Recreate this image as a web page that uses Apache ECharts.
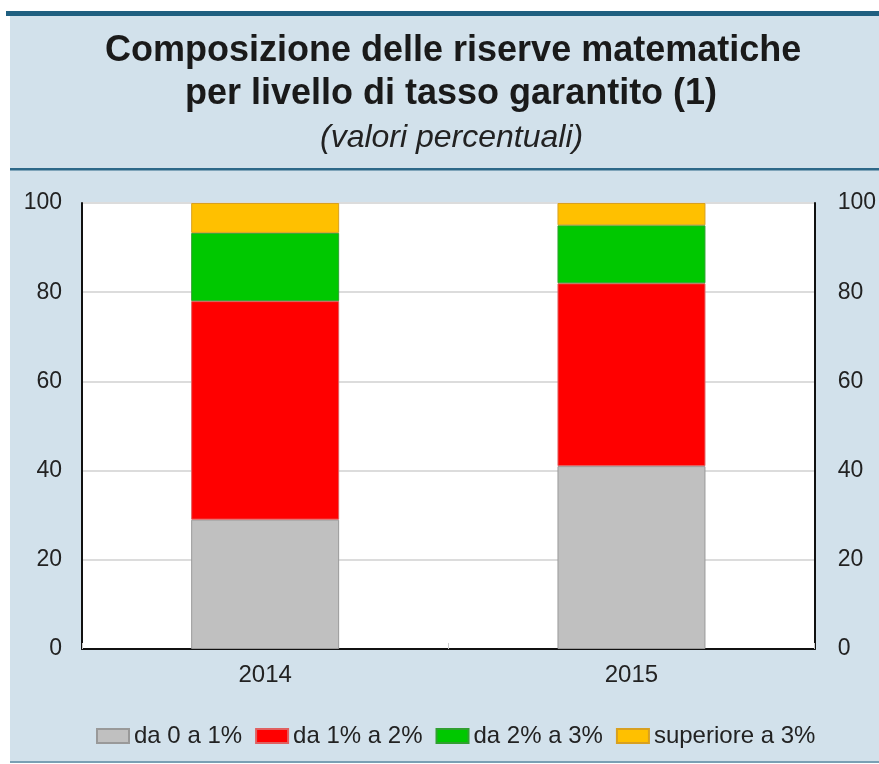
<!DOCTYPE html>
<html>
<head>
<meta charset="utf-8">
<script src="https://cdn.jsdelivr.net/npm/echarts@6/dist/echarts.min.js"></script>
<style>html,body{margin:0;padding:0;background:#fff;}#c{width:879px;height:764px;}</style>
</head>
<body>
<div id="c"></div>
<script>
const categories = ['2014', '2015'];
const seriesNames = ['da 0 a 1%', 'da 1% a 2%', 'da 2% a 3%', 'superiore a 3%'];
const s0to1 = [29, 41];
const s1to2 = [49, 41];
const s2to3 = [15.3, 13];
const sOver3 = [6.7, 5];
const yTicks = [0, 20, 40, 60, 80, 100];

const colors = ['#c0c0c0', '#ff0000', '#00c800', '#ffc000'];
const borders = ['#999999', '#e06060', '#30a030', '#d8a020'];
const values = [s0to1, s1to2, s2to3, sOver3];

const chart = echarts.init(document.getElementById('c'), null, {renderer: 'canvas'});
const font = 'Liberation Sans, Arial, sans-serif';
const yAxisCommon = {
  type: 'value', min: yTicks[0], max: yTicks[yTicks.length - 1], interval: 20,
  axisLine: {show: true, lineStyle: {color: '#111', width: 2}},
  axisTick: {show: false},
  axisLabel: {color: '#222', fontSize: 23, fontFamily: font, margin: 20},
};
chart.setOption({
  backgroundColor: '#ffffff',
  animation: false,
  graphic: [
    {type: 'rect', shape: {x: 10, y: 12, width: 869, height: 750}, style: {fill: '#d2e1eb'}, z: -10},
    {type: 'rect', shape: {x: 6, y: 11, width: 873, height: 5}, style: {fill: '#1f5f80'}, z: -9},
    {type: 'rect', shape: {x: 10, y: 168, width: 869, height: 2.5}, style: {fill: '#2d6888'}, z: -9},
    {type: 'rect', shape: {x: 10, y: 761, width: 869, height: 2}, style: {fill: '#7aa0b4'}, z: -9}
  ],
  title: [
    {text: 'Composizione delle riserve matematiche', left: 100, top: 28,
     textStyle: {fontSize: 36, fontWeight: 'bold', color: '#1a1a1a', fontFamily: font}},
    {text: 'per livello di tasso garantito (1)', left: 180, top: 71,
     textStyle: {fontSize: 36, fontWeight: 'bold', color: '#1a1a1a', fontFamily: font}},
    {text: '(valori percentuali)', left: 315, top: 117,
     textStyle: {fontSize: 32, fontWeight: 'normal', fontStyle: 'italic', color: '#222', fontFamily: font}}
  ],
  grid: {left: 82, right: 64, top: 203, bottom: 115, show: true, backgroundColor: '#ffffff', borderColor: '#888', borderWidth: 1},
  legend: {
    top: 719, left: 91, itemWidth: 32, itemHeight: 14, itemGap: 13, icon: 'rect',
    textStyle: {fontSize: 24, color: '#222', fontFamily: font},
    data: seriesNames
  },
  xAxis: {
    type: 'category', data: categories,
    axisLine: {show: true, lineStyle: {color: '#111', width: 2}},
    axisTick: {show: true, inside: true, length: 6, lineStyle: {color: '#ccc'}},
    axisLabel: {color: '#222', fontSize: 24, fontFamily: font, margin: 14},
    splitLine: {show: false}
  },
  yAxis: [
    Object.assign({}, yAxisCommon, {position: 'left', splitLine: {show: true, lineStyle: {color: '#dcdcdc', width: 2}}}),
    Object.assign({}, yAxisCommon, {position: 'right', splitLine: {show: false}, axisLabel: Object.assign({}, yAxisCommon.axisLabel, {margin: 23})})
  ],
  series: seriesNames.map((n, i) => ({
    name: n, type: 'bar', stack: 'tot', barWidth: '40.4%', data: values[i],
    itemStyle: {color: colors[i], borderColor: borders[i], borderWidth: 1}
  }))
});
</script>
</body>
</html>
